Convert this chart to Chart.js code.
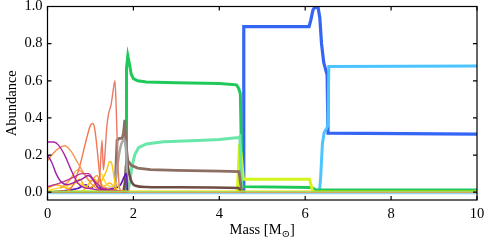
<!DOCTYPE html>
<html>
<head>
<meta charset="utf-8">
<script src="https://cdn.jsdelivr.net/npm/chart.js@4"></script>
<style>
  html, body { margin: 0; padding: 0; background: #fff; }
  #wrap { width: 484px; height: 242px; }
</style>
</head>
<body>
<div id="wrap"><canvas id="myChart"></canvas></div>
<script>
// tick labels
const xTicks = [0, 2, 4, 6, 8, 10]
const yTicks = [0, 0.2, 0.4, 0.6, 0.8, 1.0]

// thick species, [mass, abundance]
const green = [[0, 0], [1.83, 0], [1.84, 0.67], [1.87, 0.735], [1.9, 0.7], [1.95, 0.635], [2.0, 0.612], [2.1, 0.6], [2.3, 0.594], [3, 0.59], [4, 0.585], [4.4, 0.578], [4.45, 0.56], [4.49, 0.53], [4.53, 0.03], [6.15, 0.025], [6.25, 0.012], [10, 0.012]]
const mint = [[1.87, 0], [1.92, 0.06], [1.96, 0.13], [2.03, 0.2], [2.12, 0.24], [2.3, 0.26], [2.7, 0.272], [3.5, 0.279], [4.0, 0.284], [4.45, 0.294], [4.48, 0.3], [4.52, 0.0]]
const brownA = [[1.57, 0], [1.62, 0.28], [1.67, 0.29], [1.74, 0.29], [1.77, 0.32], [1.8, 0.39], [1.83, 0.25], [1.87, 0.17], [1.95, 0.145], [2.1, 0.13], [2.4, 0.122], [3, 0.118], [4, 0.114], [4.46, 0.111], [4.52, 0]]
const brownB = [[1.76, 0], [1.8, 0.05], [1.84, 0.17], [1.9, 0.1], [1.97, 0.05], [2.05, 0.035], [2.3, 0.028], [3, 0.026], [4.45, 0.022], [4.5, 0]]
const blue = [[4.52, 0], [4.56, 0], [4.57, 0.892], [6.09, 0.892], [6.13, 0.925], [6.18, 0.98], [6.22, 0.995], [6.3, 0.995], [6.34, 0.94], [6.38, 0.8], [6.43, 0.7], [6.47, 0.665], [6.51, 0.632], [6.53, 0.318], [10, 0.313]]
const skyBlue = [[6.33, 0], [6.36, 0.08], [6.4, 0.26], [6.44, 0.32], [6.5, 0.345], [6.53, 0.36], [6.55, 0.677], [10, 0.68]]
const lime = [[4.42, 0], [4.47, 0.26], [4.51, 0.2], [4.56, 0.07], [6.1, 0.07], [6.18, 0.0]]
const gray = [[1.5, 0], [1.58, 0.05], [1.65, 0.18], [1.72, 0.26], [1.78, 0.28], [1.83, 0.22], [1.86, 0.04], [1.9, 0]]

// thin species below 2 Msun
const purpleA = [[0, 0.27], [0.15, 0.27], [0.25, 0.255], [0.4, 0.2], [0.55, 0.12], [0.7, 0.05], [0.85, 0.025], [1.0, 0.02], [1.2, 0.01], [1.5, 0.005], [1.85, 0]]
const purpleB = [[0, 0.2], [0.1, 0.16], [0.2, 0.1], [0.3, 0.06], [0.45, 0.04], [0.6, 0.05], [0.8, 0.07], [0.95, 0.09], [1.05, 0.07], [1.2, 0.02], [1.5, 0.01], [1.8, 0]]
const magenta = [[0, 0.03], [0.3, 0.05], [0.6, 0.08], [0.8, 0.1], [0.95, 0.1], [1.1, 0.06], [1.3, 0.02], [1.6, 0.01], [1.85, 0]]
const orangeA = [[0, 0.17], [0.1, 0.2], [0.25, 0.235], [0.4, 0.25], [0.55, 0.22], [0.7, 0.16], [0.85, 0.1], [1.0, 0.05], [1.15, 0.02], [1.3, 0.01], [1.6, 0]]
const coral = [[0.45, 0], [0.6, 0.04], [0.75, 0.14], [0.9, 0.28], [1.0, 0.36], [1.05, 0.37], [1.1, 0.34], [1.17, 0.2], [1.22, 0.08], [1.27, 0.02], [1.35, 0]]
const salmon = [[1.15, 0.02], [1.22, 0.1], [1.27, 0.28], [1.3, 0.12], [1.33, 0.18], [1.38, 0.35], [1.42, 0.42], [1.48, 0.47], [1.53, 0.55], [1.57, 0.6], [1.6, 0.45], [1.64, 0.15], [1.68, 0.02], [1.75, 0]]
const orangeB = [[0.3, 0.02], [0.5, 0.06], [0.7, 0.12], [0.85, 0.1], [1.0, 0.06], [1.15, 0.09], [1.25, 0.04], [1.4, 0.02], [1.7, 0]]
const yellowA = [[0.8, 0], [0.95, 0.04], [1.1, 0.07], [1.2, 0.04], [1.3, 0.08], [1.38, 0.12], [1.45, 0.165], [1.5, 0.15], [1.55, 0.08], [1.6, 0.02], [1.7, 0]]
const yellowB = [[0, 0.01], [0.4, 0.03], [0.7, 0.05], [0.9, 0.03], [1.05, 0.07], [1.15, 0.03], [1.25, 0.1], [1.35, 0.05], [1.5, 0.03], [1.6, 0.05], [1.7, 0.01], [1.9, 0]]
const amber = [[0, 0.02], [0.2, 0.04], [0.5, 0.02], [0.75, 0.07], [0.9, 0.02], [1.1, 0.04], [1.2, 0.07], [1.3, 0.03], [1.45, 0.05], [1.6, 0.01], [1.8, 0]]
const indigo = [[0, 0], [0.7, 0.02], [0.9, 0.04], [1.0, 0.02], [1.15, 0.05], [1.25, 0.02], [1.5, 0.02], [1.7, 0.04], [1.8, 0.09], [1.84, 0.1], [1.86, 0]]

// baselines
const baseYellow = [[0, 0.006], [10, 0.006]]
const baseGreen = [[0, 0.002], [10, 0.002]]
const baseOrange = [[0, -0.003], [10, -0.003]]
const baseSky = [[0, -0.008], [10, -0.008]]

const serif = "'Liberation Serif', 'DejaVu Serif', serif"
const fontSize = 14.5

function ds(pts, color, width, smooth) {
  return {
    data: pts.map(p => ({ x: p[0], y: p[1] })),
    borderColor: color,
    borderWidth: width,
    pointRadius: 0,
    fill: false,
    cubicInterpolationMode: smooth ? 'monotone' : 'default',
    tension: 0,
  }
}

// box, inward ticks on all four sides, and the x title with its subscript
const frame = {
  id: 'frame',
  afterDraw(chart) {
    const { ctx, chartArea: a, scales: { x, y } } = chart
    ctx.save()
    ctx.strokeStyle = '#000'
    ctx.lineWidth = 1.2
    ctx.strokeRect(a.left, a.top, a.right - a.left, a.bottom - a.top)
    ctx.beginPath()
    x.ticks.forEach(t => {
      const p = x.getPixelForValue(t.value)
      ctx.moveTo(p, a.bottom); ctx.lineTo(p, a.bottom - 4)
      ctx.moveTo(p, a.top); ctx.lineTo(p, a.top + 4)
    })
    y.ticks.forEach(t => {
      const p = y.getPixelForValue(t.value)
      ctx.moveTo(a.left, p); ctx.lineTo(a.left + 4, p)
      ctx.moveTo(a.right, p); ctx.lineTo(a.right - 4, p)
    })
    ctx.stroke()

    const main = 'Mass [M', sub = '\u2299', tail = ']'
    ctx.fillStyle = '#000'
    ctx.textBaseline = 'alphabetic'
    ctx.font = fontSize + 'px ' + serif
    const w1 = ctx.measureText(main).width, w3 = ctx.measureText(tail).width
    ctx.font = (fontSize * 0.7) + 'px ' + serif
    const w2 = ctx.measureText(sub).width
    let cx = (a.left + a.right) / 2 - (w1 + w2 + w3) / 2
    const base = 234
    ctx.font = fontSize + 'px ' + serif
    ctx.fillText(main, cx, base)
    cx += w1
    ctx.font = (fontSize * 0.7) + 'px ' + serif
    ctx.fillText(sub, cx, base + 3)
    cx += w2
    ctx.font = fontSize + 'px ' + serif
    ctx.fillText(tail, cx, base)
    ctx.restore()
  }
}

new Chart(document.getElementById('myChart'), {
  type: 'line',
  data: {
    datasets: [
      ds(baseSky, '#8fd3f4', 1.2),
      ds(baseOrange, '#e0903a', 1.2),
      ds(baseGreen, '#8bdd6a', 1.2),
      ds(baseYellow, '#f2d600', 1.2),
      ds(purpleA, '#a626a4', 1.4, true),
      ds(purpleB, '#9b1fa8', 1.4, true),
      ds(magenta, '#c2368f', 1.4, true),
      ds(orangeA, '#f7954f', 1.4, true),
      ds(coral, '#f2784f', 1.4, true),
      ds(salmon, '#ea7a63', 1.4, true),
      ds(orangeB, '#f9a03f', 1.4, true),
      ds(yellowA, '#ffc20a', 1.4, true),
      ds(yellowB, '#fdd835', 1.4, true),
      ds(amber, '#ffb300', 1.4, true),
      ds(indigo, '#5b16b5', 1.6, true),
      ds(gray, '#a6a6a6', 2.5, true),
      ds(brownB, '#6d4c41', 2.5, true),
      ds(brownA, '#8d6e63', 2.8),
      ds(mint, '#69e6a9', 3),
      ds(lime, '#d2f51c', 3),
      ds(green, '#1ec95a', 3),
      ds(skyBlue, '#4cc4ff', 3),
      ds(blue, '#3366f5', 3.2),
    ]
  },
  options: {
    responsive: true,
    maintainAspectRatio: false,
    animation: false,
    layout: { padding: { left: 0, right: 7, top: 6.5, bottom: 0 } },
    plugins: {
      legend: { display: false },
      tooltip: { enabled: false },
    },
    scales: {
      x: {
        type: 'linear',
        min: 0,
        max: 10,
        afterFit: s => { s.height = 42; s.paddingLeft = 0; s.paddingRight = 0 },
        afterBuildTicks: s => { s.ticks = xTicks.map(v => ({ value: v })) },
        grid: { display: false, drawTicks: false },
        border: { display: false },
        ticks: { color: '#000', padding: 5, font: { family: serif, size: fontSize }, autoSkip: false, maxRotation: 0 },
        title: { display: false },
      },
      y: {
        type: 'linear',
        min: -0.042,
        max: 1.0,
        afterFit: s => { s.width = 47.5; s.paddingTop = 0; s.paddingBottom = 0 },
        afterBuildTicks: s => { s.ticks = yTicks.map(v => ({ value: v })) },
        grid: { display: false, drawTicks: false },
        border: { display: false },
        ticks: { color: '#000', padding: 5, font: { family: serif, size: fontSize }, callback: v => v.toFixed(1) },
        title: { display: true, text: 'Abundance', color: '#000', padding: { top: 3, bottom: 0 }, font: { family: serif, size: fontSize } },
      }
    }
  },
  plugins: [frame]
})
</script>
</body>
</html>
